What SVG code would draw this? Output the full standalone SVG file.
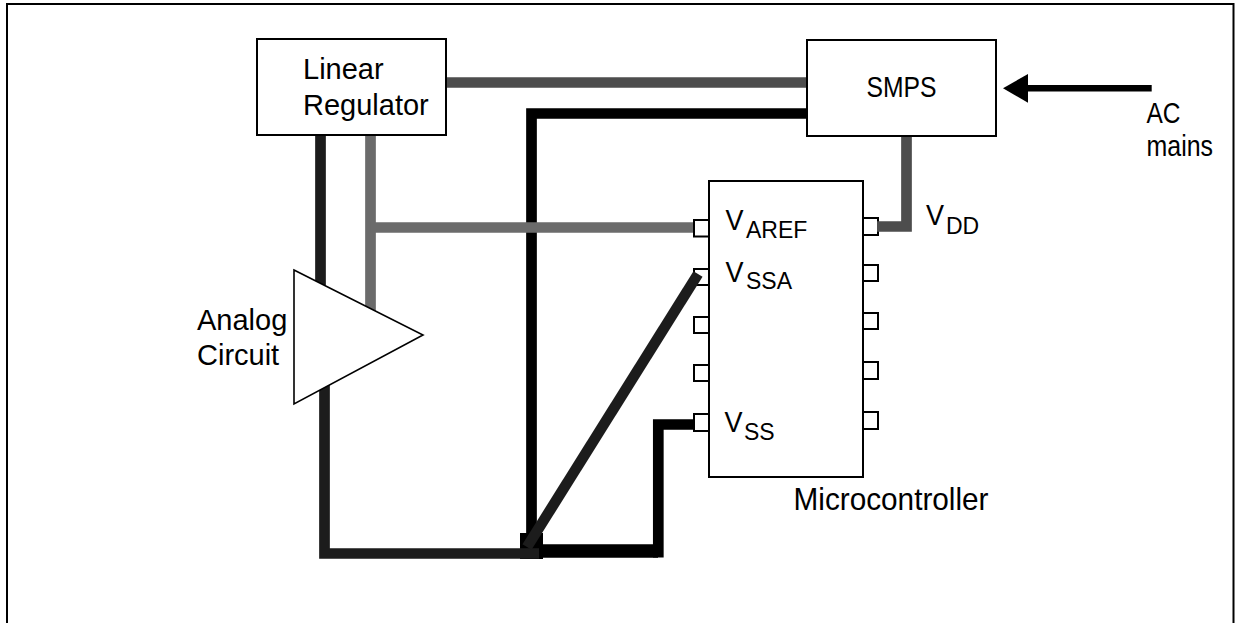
<svg xmlns="http://www.w3.org/2000/svg" width="1239" height="623" viewBox="0 0 1239 623">
<style>
.box{fill:#fff;stroke:#000;stroke-width:2}
.w{fill:none;stroke-width:10.7;stroke-linejoin:miter;stroke-linecap:butt}
.t{font-family:"Liberation Sans",Arial,sans-serif;font-size:29px;fill:#000}
.s{font-size:23px}
</style>
<rect width="1239" height="623" fill="#fff"/>
<path d="M7 623V4H1233.500V623" fill="none" stroke="#000" stroke-width="2"/>
<g id="linear-regulator"><rect class="box" x="257" y="39" width="189" height="96"/>
<text class="t" x="303" y="79">Linear</text><text class="t" x="303" y="115">Regulator</text></g>
<g id="smps"><rect class="box" x="807" y="40" width="189" height="96"/>
<text class="t" x="866.500" y="97" textLength="70" lengthAdjust="spacingAndGlyphs">SMPS</text></g>
<g id="ac-mains"><text class="t" x="1146.500" y="122.500" textLength="34" lengthAdjust="spacingAndGlyphs">AC</text><text class="t" x="1146.500" y="156" textLength="66.500" lengthAdjust="spacingAndGlyphs">mains</text></g>
<g id="microcontroller">
<rect class="box" x="694" y="220" width="15" height="16.500"/>
<rect class="box" x="694" y="269" width="15" height="16"/>
<rect class="box" x="694" y="317" width="15" height="16"/>
<rect class="box" x="694" y="365" width="15" height="16"/>
<rect class="box" x="694" y="414" width="15" height="17"/>
<rect class="box" x="863" y="218" width="15" height="17"/>
<rect class="box" x="863" y="265" width="15" height="16"/>
<rect class="box" x="863" y="313" width="15" height="16"/>
<rect class="box" x="863" y="362" width="15" height="17"/>
<rect class="box" x="863" y="412" width="15" height="17"/>
<rect class="box" x="709" y="181" width="154" height="296"/>
<text class="t" x="793.500" y="509.500" style="font-size:32px" textLength="195" lengthAdjust="spacingAndGlyphs">Microcontroller</text>
<text class="t" x="725.500" y="230" textLength="18" lengthAdjust="spacingAndGlyphs">V</text><text class="t s" x="746" y="237.500">AREF</text>
<text class="t" x="725.500" y="281.500" textLength="18" lengthAdjust="spacingAndGlyphs">V</text><text class="t s" x="746" y="288.500">SSA</text>
<text class="t" x="724.500" y="431.500" textLength="18" lengthAdjust="spacingAndGlyphs">V</text><text class="t s" x="744" y="440">SS</text>
<text class="t" x="926" y="225" textLength="18" lengthAdjust="spacingAndGlyphs">V</text><text class="t s" x="946" y="233.500">DD</text>
</g>
<g id="connectors">
<path class="w" stroke="#4d4d4d" d="M447 82.500H806"/>
<path class="w" stroke="#000" d="M531.500 533V113.500H806"/>
<path class="w" stroke="#4d4d4d" d="M906.500 137V226.500H877"/>
<path class="w" stroke="#1c1c1c" d="M320.500 136V285"/>
<path class="w" stroke="#6b6b6b" d="M370.500 136V312"/>
<path class="w" stroke="#6b6b6b" d="M370.500 227.500H693"/>
<path class="w" stroke="#000" d="M540 551H658"  style="stroke-width:13.500"/>
<path class="w" stroke="#000" d="M658.300 557.500V424.500H693"/>
<rect x="520" y="533" width="23" height="26" fill="#000"/>
<path class="w" stroke="#1c1c1c" d="M324.500 385V553.500H539"/>
<path class="w" stroke="#1c1c1c" d="M527 547L698 274"/>
<path d="M1151.700 88.300H1028" fill="none" stroke="#000" stroke-width="6.500"/>
<path d="M1003 88.300L1028 74V102.700Z" fill="#000"/>
</g>
<g id="analog-circuit"><path class="box" style="stroke-width:1.600" d="M294 270L423 335L294 404Z"/>
<text class="t" x="197" y="330">Analog</text><text class="t" x="197" y="365">Circuit</text></g>
</svg>
